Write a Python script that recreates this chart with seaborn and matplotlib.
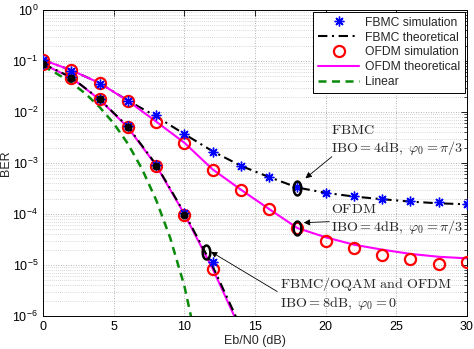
import numpy as np
import pandas as pd
import matplotlib
matplotlib.use("Agg")
import matplotlib.pyplot as plt
from matplotlib.path import Path
from matplotlib.ticker import FixedLocator, LogFormatterSciNotation, NullFormatter
import seaborn as sns

# ---------------- data ----------------
x4 = [0, 2, 4, 6, 8, 10, 12, 14, 16, 18, 20, 22, 24, 26, 28, 30]
fbmc_theo4 = [0.105, 0.066, 0.037, 0.0168, 0.0082, 0.0037, 0.0017, 8.8e-4, 5.3e-4,
              3.3e-4, 2.6e-4, 2.2e-4, 1.95e-4, 1.75e-4, 1.62e-4, 1.55e-4]
ofdm_theo4 = [0.105, 0.066, 0.037, 0.0166, 0.0065, 0.0025, 7.5e-4, 3.0e-4, 1.25e-4,
              5.3e-5, 3.5e-5, 2.5e-5, 2.0e-5, 1.65e-5, 1.45e-5, 1.35e-5]
fbmc_sim4 = [0.105, 0.065, 0.036, 0.0165, 0.0087, 0.0037, 0.00167, 8.7e-4, 5.2e-4,
             3.4e-4, 2.6e-4, 2.3e-4, 2.0e-4, 1.8e-4, 1.74e-4, 1.6e-4]
ofdm_sim4 = [0.105, 0.066, 0.037, 0.0166, 0.0065, 0.0025, 7.3e-4, 3.0e-4, 1.24e-4,
             5.2e-5, 3.0e-5, 2.2e-5, 1.55e-5, 1.3e-5, 1.05e-5, 1.15e-5]

x8_sim = [0, 2, 4, 6, 8, 10, 12]
fbmc_sim8 = [0.088, 0.048, 0.0178, 0.0052, 9.2e-4, 1.05e-4, 1.17e-5]
ofdm_sim8 = [0.087, 0.047, 0.0176, 0.0050, 8.9e-4, 9.6e-5, 8.3e-6]
x8_theo = [0, 2, 4, 6, 8, 10, 12, 14]
fbmc_theo8 = [0.088, 0.048, 0.0178, 0.0052, 9.3e-4, 1.05e-4, 9.5e-6, 6e-7]
ofdm_theo8 = [0.087, 0.047, 0.0176, 0.0050, 9.0e-4, 1.0e-4, 8.5e-6, 5.2e-7]

x_lin = [0, 1, 2, 3, 4, 5, 6, 7, 8, 9, 10, 10.5]
linear = [0.079, 0.056, 0.0375, 0.023, 0.0125, 0.006, 0.0024, 7.7e-4, 1.9e-4,
          3.4e-5, 3.9e-6, 9e-7]

x_ticks = [0, 5, 10, 15, 20, 25, 30]
y_ticks = [1e-6, 1e-5, 1e-4, 1e-3, 1e-2, 1e-1, 1e0]

# annotation ellipses (x, BER) and arrows
ell_x = [18, 18, 11.5]
ell_y = [3.2e-4, 5.2e-5, 1.8e-5]
ann_texts = [r"$\mathrm{FBMC}$" + "\n" + r"$\mathrm{IBO{=}4dB},\ \varphi_0=\pi/3$",
             r"$\mathrm{OFDM}$" + "\n" + r"$\mathrm{IBO{=}4dB},\ \varphi_0=\pi/3$",
             r"$\mathrm{FBMC/OQAM\ and\ OFDM}$" + "\n" + r"$\mathrm{IBO{=}8dB},\ \varphi_0=0$"]
ann_text_xy = [(20.4, 10 ** -2.22), (20.35, 10 ** -3.76), (16.75, 10 ** -5.2)]
arrow_tail = [(20.44, 10 ** -2.876), (20.26, 10 ** -4.15), (16.57, 10 ** -5.52)]
arrow_tip = [(18.57, 10 ** -3.30), (18.45, 10 ** -4.17), (11.88, 10 ** -4.74)]

legend_order = ["FBMC simulation", "FBMC theoretical", "OFDM simulation",
                "OFDM theoretical", "Linear"]

# ---------------- style ----------------
sns.set_style("white")
plt.rcParams["font.family"] = ["Liberation Sans", "DejaVu Sans"]
plt.rcParams["mathtext.fontset"] = "cm"
plt.rcParams["font.size"] = 9

fig = plt.figure(figsize=(4.74, 3.49), dpi=100)
ax = fig.add_axes([43 / 474, 1 - 316 / 349, (467 - 43) / 474, (316 - 10) / 349])
ax.set_yscale("log")

dashdot = (0, (4.5, 2.2, 1.0, 2.2))
lw = 1.5

sns.lineplot(x=x4, y=fbmc_theo4, ax=ax, color="black", linewidth=lw, linestyle=dashdot,
             label="FBMC theoretical", zorder=3, sort=False)
sns.lineplot(x=x4, y=ofdm_theo4, ax=ax, color="#ff00ff", linewidth=lw,
             label="OFDM theoretical", zorder=4, sort=False)
sns.lineplot(x=x8_theo, y=ofdm_theo8, ax=ax, color="#ff00ff", linewidth=lw, zorder=3, sort=False)
sns.lineplot(x=x8_theo, y=fbmc_theo8, ax=ax, color="black", linewidth=lw, linestyle=dashdot,
             zorder=4, sort=False)
sns.lineplot(x=x_lin, y=linear, ax=ax, color="#0a8a0a", linewidth=lw + 0.3,
             linestyle=(0, (3.2, 2.2)), label="Linear", zorder=3, sort=False)

circ_kw = dict(marker="o", linestyle="none", markersize=8, markerfacecolor="none",
               markeredgecolor="#ff0000", markeredgewidth=1.6, color="#ff0000")
star_kw = dict(marker=(8, 2, 0), linestyle="none", markersize=7,
               markeredgecolor="#0000ff", markeredgewidth=1.0, color="#0000ff")

sns.lineplot(x=x4, y=ofdm_sim4, ax=ax, label="OFDM simulation", zorder=5, sort=False, **circ_kw)
sns.lineplot(x=x8_sim, y=ofdm_sim8, ax=ax, zorder=5, sort=False, **circ_kw)
sns.lineplot(x=x4, y=fbmc_sim4, ax=ax, label="FBMC simulation", zorder=6, sort=False, **star_kw)
sns.lineplot(x=x8_sim, y=fbmc_sim8, ax=ax, zorder=6, sort=False, **star_kw)
sns.lineplot(x=x8_sim[:-1], y=ofdm_sim8[:-1], ax=ax, marker="o", linestyle="none", markersize=5,
             markerfacecolor="black", markeredgecolor="black", color="black", zorder=7, sort=False)

# annotation ellipses
t = np.linspace(0, 2 * np.pi, 60)
ell_path = Path(np.column_stack([0.55 * np.cos(t), np.sin(t)]))
ax.plot(ell_x, ell_y, linestyle="none", marker=ell_path, markersize=10,
        markerfacecolor="none", markeredgecolor="black", markeredgewidth=1.8, zorder=8)

for txt, txy, tail, tip in zip(ann_texts, ann_text_xy, arrow_tail, arrow_tip):
    ax.text(txy[0], txy[1], txt, fontsize=10.2, ha="left", va="top", zorder=9,
            linespacing=1.15)
    ax.annotate("", xy=tip, xytext=tail,
                arrowprops=dict(arrowstyle="-|>", color="black", lw=0.6,
                                mutation_scale=9, shrinkA=0, shrinkB=0), zorder=9)

# axes
ax.set_xlim(0, 30)
ax.set_ylim(1e-6, 1)
ax.xaxis.set_major_locator(FixedLocator(x_ticks))
ax.yaxis.set_major_locator(FixedLocator(y_ticks))
ax.yaxis.set_major_formatter(LogFormatterSciNotation())
minor_y = [m * d for d in y_ticks[:-1] for m in range(2, 10)]
ax.yaxis.set_minor_locator(FixedLocator(minor_y))
ax.yaxis.set_minor_formatter(NullFormatter())
ax.tick_params(which="both", direction="in", top=True, right=True, labelsize=9,
               colors="black")
ax.tick_params(which="major", length=4, width=0.6)
ax.tick_params(which="minor", length=2, width=0.5)
ax.grid(True, which="major", linestyle=(0, (1, 2)), color="#9a9a9a", linewidth=0.6)
ax.yaxis.grid(True, which="minor", linestyle=(0, (1, 2)), color="#b4b4b4", linewidth=0.5)
for s in ax.spines.values():
    s.set_color("black")
    s.set_linewidth(0.7)

ax.set_xlabel("Eb/N0 (dB)", fontsize=9)
ax.set_ylabel("BER", fontsize=9)
ax.xaxis.set_label_coords(0.5, -0.062)
ax.yaxis.set_label_coords(-0.074, 0.5)

handles, labels = ax.get_legend_handles_labels()
hmap = dict(zip(labels, handles))
leg = ax.legend([hmap[k] for k in legend_order], legend_order, loc="upper right",
                bbox_to_anchor=(1.0, 1.0), fontsize=8.7, frameon=True, fancybox=False,
                framealpha=1, edgecolor="black", borderaxespad=0.15, handlelength=3.4,
                handletextpad=0.5, labelspacing=0.24, borderpad=0.4)
leg.get_frame().set_linewidth(0.7)
leg.set_zorder(10)

fig.savefig("out.png", dpi=100)
